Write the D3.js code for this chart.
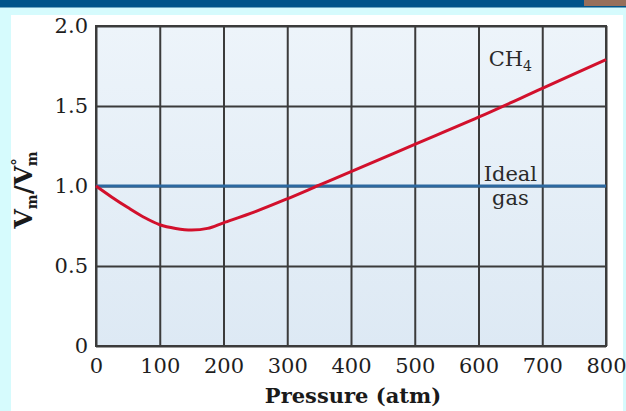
<!DOCTYPE html>
<html>
<head>
<meta charset="utf-8">
<script src="https://cdn.jsdelivr.net/npm/d3@7"></script>
<style>
    body { margin: 0; background: #d6fbfd; }
    svg { display: block; }
    .axis text { font-family: "DejaVu Serif", serif; font-size: 21px; fill: #1e1e1e; }
    .axis path, .axis line { stroke: none; }
    .grid line { stroke: #3b3b3b; stroke-width: 2; }
    .grid path { stroke: none; }
</style>
</head>
<body>
<svg id="chart"></svg>
<script>
// data
var pressure = [0, 25, 50, 75, 100, 125, 150, 175, 200, 250, 300, 350, 400, 500, 600, 700, 800];
var ch4Ratio = [1.0, 0.93, 0.865, 0.805, 0.758, 0.735, 0.725, 0.735, 0.77, 0.84, 0.92, 1.005, 1.09, 1.26, 1.43, 1.61, 1.79];
var idealPressure = [0, 800];
var idealRatio = [1.0, 1.0];
var xTicks = [0, 100, 200, 300, 400, 500, 600, 700, 800];
var yTicks = [0, 0.5, 1.0, 1.5, 2.0];

var W = 626, H = 411;
var margin = { "left": 96, "right": 20, "top": 26, "bottom": 65 };
var width = W - margin.left - margin.right;
var height = H - margin.top - margin.bottom;

var svg = d3.select("#chart")
    .attr("width", W)
    .attr("height", H);

// page frame: top band, white panel
svg.append("rect").attr("x", 0).attr("y", 0).attr("width", W).attr("height", 7.5).attr("fill", "#00548a");
svg.append("rect").attr("x", 584).attr("y", 0).attr("width", 42).attr("height", 6).attr("fill", "#c9784a").attr("opacity", 0.75);
svg.append("rect").attr("x", 11).attr("y", 15).attr("width", 612).attr("height", H - 15).attr("fill", "#ffffff");

var defs = svg.append("defs");
var grad = defs.append("linearGradient").attr("id", "bg").attr("x1", 0).attr("y1", 0).attr("x2", 0).attr("y2", 1);
grad.append("stop").attr("offset", "0%").attr("stop-color", "#edf4fa");
grad.append("stop").attr("offset", "100%").attr("stop-color", "#dde9f4");

var g = svg.append("g")
    .attr("transform", "translate(" + margin.left + "," + margin.top + ")");

var x = d3.scaleLinear().domain([0, 800]).range([0, width]);
var y = d3.scaleLinear().domain([0, 2.0]).range([height, 0]);

// plot background
g.append("rect")
    .attr("width", width)
    .attr("height", height)
    .attr("fill", "url(#bg)");

// gridlines
g.append("g")
    .attr("class", "grid")
    .attr("transform", "translate(0," + height + ")")
    .call(d3.axisBottom(x).tickValues(xTicks).tickSize(-height).tickFormat(""));

g.append("g")
    .attr("class", "grid")
    .call(d3.axisLeft(y).tickValues(yTicks).tickSize(-width).tickFormat(""));

// frame
g.append("rect")
    .attr("width", width)
    .attr("height", height)
    .attr("fill", "none")
    .attr("stroke", "#3b3b3b")
    .attr("stroke-width", 2);

// axes labels
g.append("g")
    .attr("class", "axis")
    .attr("transform", "translate(0," + height + ")")
    .call(d3.axisBottom(x).tickValues(xTicks).tickSize(0).tickPadding(12).tickFormat(d3.format("d")));

g.append("g")
    .attr("class", "axis")
    .call(d3.axisLeft(y).tickValues(yTicks).tickSize(0).tickPadding(8)
        .tickFormat(d => d === 0 ? "0" : d3.format(".1f")(d)));

// ideal gas line
var line = d3.line()
    .x(d => x(d[0]))
    .y(d => y(d[1]));

g.append("path")
    .attr("d", line(d3.zip(idealPressure, idealRatio)))
    .attr("fill", "none")
    .attr("stroke", "#2c68a0")
    .attr("stroke-width", 3);

// CH4 curve
var curve = d3.line()
    .x(d => x(d[0]))
    .y(d => y(d[1]))
    .curve(d3.curveCatmullRom);

g.append("path")
    .attr("d", curve(d3.zip(pressure, ch4Ratio)))
    .attr("fill", "none")
    .attr("stroke", "#d2102c")
    .attr("stroke-width", 3);

// labels in plot
var lab = g.append("g")
    .attr("font-family", "DejaVu Serif, serif")
    .attr("font-size", 21)
    .attr("fill", "#2a2a2a")
    .attr("text-anchor", "middle");

var ch4 = lab.append("text").attr("x", x(650)).attr("y", y(1.76) + 2);
ch4.append("tspan").text("CH");
ch4.append("tspan").attr("font-size", 14).attr("dy", 5).text("4");

lab.append("text").attr("x", x(650)).attr("y", y(1.03)).text("Ideal");
lab.append("text").attr("x", x(650)).attr("y", y(0.88)).text("gas");

// axis titles
svg.append("text")
    .attr("x", margin.left + width / 2 + 2)
    .attr("y", 403)
    .attr("text-anchor", "middle")
    .attr("font-family", "DejaVu Serif, serif")
    .attr("font-weight", "bold")
    .attr("font-size", 21)
    .attr("fill", "#1a1a1a")
    .text("Pressure (atm)");

var yt = svg.append("text")
    .attr("transform", "translate(32," + (margin.top + y(1.0) + 4) + ") rotate(-90)")
    .attr("text-anchor", "middle")
    .attr("font-family", "DejaVu Serif, serif")
    .attr("font-weight", "bold")
    .attr("font-size", 25)
    .attr("fill", "#1a1a1a");
yt.append("tspan").text("V");
yt.append("tspan").attr("font-size", 14).attr("dy", 5).text("m");
yt.append("tspan").attr("dy", -5).text("/V");
yt.append("tspan").attr("font-size", 15).attr("dy", -9).text("°");
yt.append("tspan").attr("font-size", 14).attr("dx", -8).attr("dy", 14).text("m");
</script>
</body>
</html>
